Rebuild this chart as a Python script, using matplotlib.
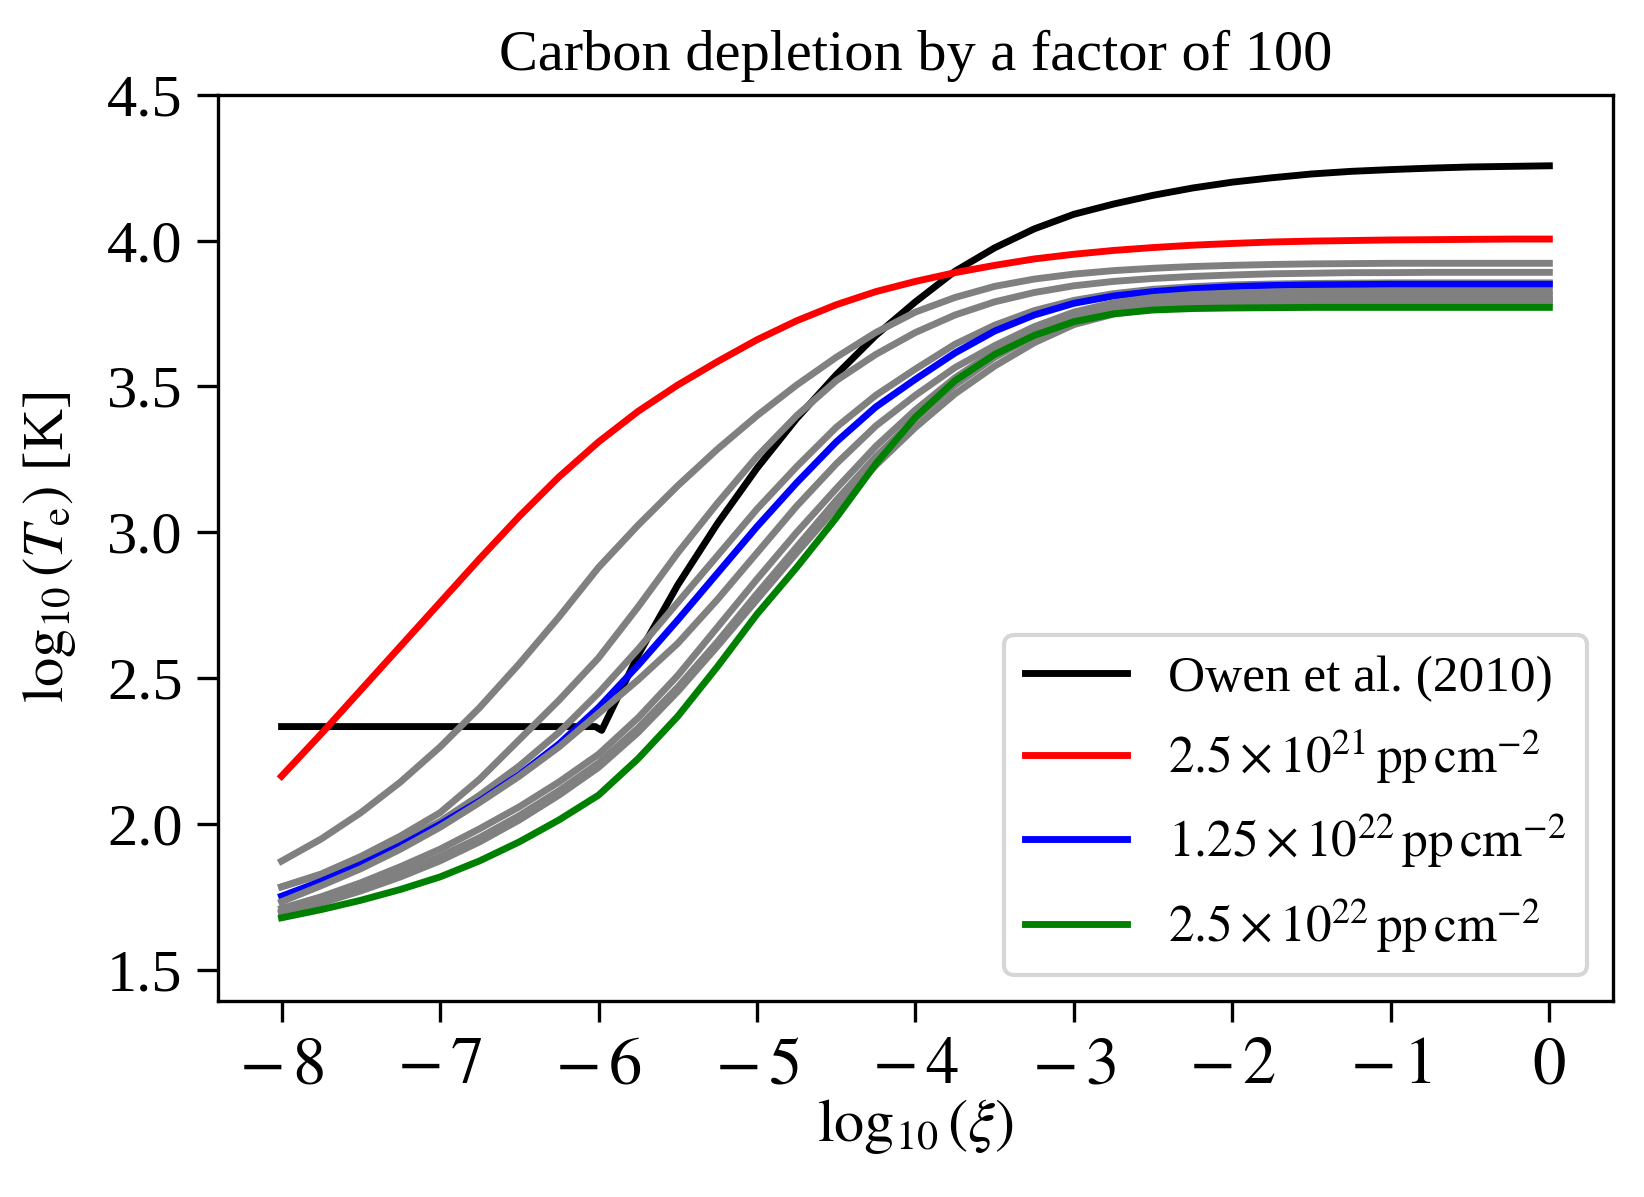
import matplotlib
matplotlib.use("Agg")
import matplotlib.pyplot as plt

plt.rcParams['font.family'] = ['Liberation Serif', 'DejaVu Serif']
plt.rcParams['mathtext.fontset'] = 'stix'

# x grid (log10 xi)
xi = [-8.0, -7.75, -7.5, -7.25, -7.0, -6.75, -6.5, -6.25, -6.0, -5.75, -5.5,
      -5.25, -5.0, -4.75, -4.5, -4.25, -4.0, -3.75, -3.5, -3.25, -3.0, -2.75,
      -2.5, -2.25, -2.0, -1.75, -1.5, -1.25, -1.0, -0.75, -0.5, -0.25, 0.0]

# Owen et al. (2010)
owen_x = [-8.0, -6.02, -5.98, -5.75, -5.5, -5.25, -5.0, -4.75, -4.5, -4.25,
          -4.0, -3.75, -3.5, -3.25, -3.0, -2.75, -2.5, -2.25, -2.0, -1.75,
          -1.5, -1.25, -1.0, -0.75, -0.5, -0.25, 0.0]
owen_y = [2.335, 2.335, 2.322, 2.58, 2.82, 3.03, 3.22, 3.39, 3.54, 3.675,
          3.79, 3.895, 3.975, 4.04, 4.09, 4.125, 4.155, 4.18, 4.20, 4.215,
          4.228, 4.237, 4.243, 4.248, 4.252, 4.254, 4.256]

# column densities 2.5e21 (red), 1.25e22 (blue), 2.5e22 (green)
red = [2.165, 2.31, 2.46, 2.61, 2.76, 2.91, 3.055, 3.19, 3.31, 3.415, 3.505,
       3.585, 3.66, 3.725, 3.78, 3.825, 3.86, 3.89, 3.915, 3.937, 3.953, 3.966,
       3.976, 3.984, 3.99, 3.995, 3.998, 4.0, 4.002, 4.003, 4.004, 4.005, 4.005]
blue = [1.754, 1.805, 1.862, 1.927, 2.00, 2.08, 2.17, 2.275, 2.40, 2.545, 2.70,
        2.86, 3.02, 3.17, 3.31, 3.43, 3.525, 3.615, 3.69, 3.745, 3.785, 3.81,
        3.825, 3.835, 3.842, 3.846, 3.848, 3.849, 3.85, 3.85, 3.85, 3.85, 3.85]
green = [1.680, 1.708, 1.74, 1.777, 1.82, 1.875, 1.94, 2.015, 2.10, 2.225, 2.37,
         2.54, 2.72, 2.88, 3.05, 3.235, 3.395, 3.52, 3.61, 3.675, 3.722, 3.749,
         3.762, 3.767, 3.769, 3.770, 3.771, 3.771, 3.771, 3.771, 3.771, 3.771, 3.771]

# intermediate column densities (grey)
grey_1 = [1.874, 1.95, 2.04, 2.145, 2.265, 2.40, 2.55, 2.71, 2.88, 3.025, 3.16,
          3.285, 3.40, 3.505, 3.60, 3.685, 3.755, 3.805, 3.843, 3.868, 3.885,
          3.897, 3.905, 3.911, 3.915, 3.918, 3.92, 3.921, 3.922, 3.922, 3.922,
          3.922, 3.922]
grey_2 = [1.786, 1.83, 1.89, 1.96, 2.04, 2.155, 2.29, 2.425, 2.57, 2.745, 2.93,
          3.10, 3.26, 3.40, 3.52, 3.61, 3.685, 3.745, 3.79, 3.822, 3.845, 3.86,
          3.87, 3.877, 3.882, 3.886, 3.888, 3.89, 3.89, 3.891, 3.891, 3.891, 3.891]
grey_3 = [1.786, 1.828, 1.877, 1.94, 2.01, 2.10, 2.20, 2.315, 2.45, 2.60, 2.76,
          2.92, 3.08, 3.225, 3.36, 3.47, 3.56, 3.645, 3.71, 3.76, 3.795, 3.818,
          3.833, 3.842, 3.848, 3.851, 3.853, 3.854, 3.855, 3.855, 3.855, 3.855, 3.855]
grey_4 = [1.735, 1.79, 1.848, 1.915, 1.99, 2.075, 2.165, 2.265, 2.38, 2.495, 2.62,
          2.77, 2.93, 3.09, 3.235, 3.365, 3.47, 3.565, 3.64, 3.705, 3.755, 3.787,
          3.805, 3.815, 3.82, 3.824, 3.826, 3.827, 3.827, 3.827, 3.827, 3.827, 3.827]
grey_5 = [1.712, 1.752, 1.80, 1.855, 1.915, 1.985, 2.06, 2.145, 2.24, 2.365, 2.51,
          2.675, 2.84, 3.00, 3.15, 3.295, 3.42, 3.53, 3.62, 3.69, 3.74, 3.772,
          3.79, 3.80, 3.805, 3.809, 3.811, 3.812, 3.812, 3.812, 3.812, 3.812, 3.812]
grey_6 = [1.700, 1.738, 1.782, 1.832, 1.89, 1.955, 2.03, 2.115, 2.21, 2.33, 2.47,
          2.625, 2.79, 2.95, 3.11, 3.26, 3.39, 3.505, 3.60, 3.675, 3.728, 3.76,
          3.778, 3.788, 3.792, 3.795, 3.796, 3.796, 3.796, 3.796, 3.796, 3.796, 3.796]
grey_7 = [1.695, 1.73, 1.772, 1.82, 1.875, 1.94, 2.015, 2.10, 2.195, 2.315, 2.455,
          2.61, 2.77, 2.93, 3.085, 3.23, 3.36, 3.475, 3.57, 3.65, 3.712, 3.748,
          3.766, 3.778, 3.785, 3.788, 3.79, 3.79, 3.79, 3.79, 3.79, 3.79, 3.79]

x_ticks = [-8, -7, -6, -5, -4, -3, -2, -1, 0]
x_tick_labels = [r'$-\,8$', r'$-\,7$', r'$-\,6$', r'$-\,5$', r'$-\,4$',
                 r'$-\,3$', r'$-\,2$', r'$-\,1$', r'$0$']
y_ticks = [1.5, 2.0, 2.5, 3.0, 3.5, 4.0, 4.5]
y_tick_labels = ['1.5', '2.0', '2.5', '3.0', '3.5', '4.0', '4.5']

fig = plt.figure(figsize=(5.48, 3.99), dpi=300)
ax = fig.add_axes([0.1327, 0.164, 0.8483, 0.757])
lw = 1.65

ax.plot(owen_x, owen_y, color='k', lw=lw, label='Owen et al. (2010)')
ax.plot(xi, red, color='red', lw=lw,
        label=r'$2.5\times10^{21}\,\mathrm{pp\,cm^{-2}}$')
for g in (grey_1, grey_2, grey_3):
    ax.plot(xi, g, color='grey', lw=lw)
ax.plot(xi, blue, color='blue', lw=lw,
        label=r'$1.25\times10^{22}\,\mathrm{pp\,cm^{-2}}$')
for g in (grey_4, grey_5, grey_6, grey_7):
    ax.plot(xi, g, color='grey', lw=lw)
ax.plot(xi, green, color='green', lw=lw,
        label=r'$2.5\times10^{22}\,\mathrm{pp\,cm^{-2}}$')

ax.set_ylim(1.396, 4.5)
ax.set_yticks(y_ticks)
ax.set_yticklabels(y_tick_labels)
ax.set_xticks(x_ticks)
ax.set_xticklabels(x_tick_labels)
ax.tick_params(length=5, width=0.8)
ax.tick_params(axis='y', labelsize=14.5)
ax.tick_params(axis='x', labelsize=16)
ax.set_xlabel(r'$\log_{10}(\xi)$', fontsize=14.5, labelpad=0)
ax.set_ylabel(r'$\log_{10}(T_\mathrm{e})$ [K]', fontsize=14, labelpad=7)
ax.set_title('Carbon depletion by a factor of 100', fontsize=14)
ax.legend(loc='lower right', fontsize=12.3, handlelength=2.0)

fig.savefig('out.png', dpi=300)
